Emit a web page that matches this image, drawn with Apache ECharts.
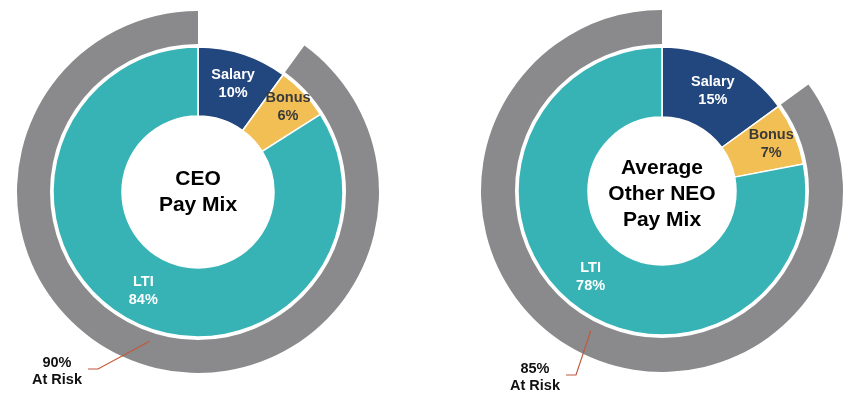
<!DOCTYPE html>
<html>
<head>
<meta charset="utf-8">
<title>Pay Mix</title>
<script src="https://cdn.jsdelivr.net/npm/echarts@6/dist/echarts.min.js"></script>
<style>
  html, body { margin: 0; padding: 0; background: #fff; }
  #chart { width: 862px; height: 398px; }
</style>
</head>
<body>
<div id="chart"></div>
<script>
// pay components, clockwise from 12 o'clock
const categories = ['Salary', 'Bonus', 'LTI'];
const ceoMix = [10, 6, 84];
const neoMix = [15, 7, 78];
// bonus + LTI
const atRisk = [90, 85];
const centerTitles = ['CEO\nPay Mix', 'Average\nOther NEO\nPay Mix'];

const FONT = '"Liberation Sans", Arial, Helvetica, sans-serif';
const sliceColors = ['#22467e', '#f2bf55', '#37b3b6'];
const ringColor = '#8a898b';

// geometry of the two charts
const charts = [
  { center: [198, 192], hole: 76, inner: 145, ringIn: 148, ringOut: 181, leader: 157, bonusPush: 10, riskLabel: [57, 371], titleY: 192 },
  { center: [662, 191], hole: 74, inner: 144, ringIn: 147, ringOut: 181, leader: 157, bonusPush: 7, riskLabel: [535, 377], titleY: 194 }
];

function buildSeries(mix, risk, g) {
  const mixPie = {
    type: 'pie',
    center: g.center,
    radius: [g.hole, g.inner],
    startAngle: 90,
    clockwise: true,
    silent: true,
    animation: false,
    itemStyle: { borderColor: '#fff', borderWidth: 1.5 },
    label: {
      show: true,
      position: 'inside',
      formatter: (p) => p.name + '\n' + p.value + '%',
      fontFamily: FONT,
      fontWeight: 'bold',
      fontSize: 14.5,
      lineHeight: 18,
      color: '#fff'
    },
    labelLine: { show: false },
    // the bonus label sits a little further out than the band middle
    labelLayout: (params) => {
      if (params.dataIndex !== 1) return {};
      const a = ((mix[0] + mix[1] / 2) / 100) * 2 * Math.PI;
      return { dx: g.bonusPush * Math.sin(a), dy: -g.bonusPush * Math.cos(a) };
    },
    data: categories.map((name, i) => ({
      name: name,
      value: mix[i],
      itemStyle: { color: sliceColors[i] },
      label: name === 'Bonus' ? { color: '#3a3a3a' } : undefined
    }))
  };

  const riskRing = {
    type: 'pie',
    center: g.center,
    radius: [g.ringIn, g.ringOut],
    startAngle: 90,
    clockwise: true,
    silent: true,
    animation: false,
    z: 2,
    label: { show: false },
    labelLine: { show: false },
    data: [
      { name: 'Fixed', value: mix[0], itemStyle: { color: 'transparent' } },
      { name: 'At Risk', value: risk, itemStyle: { color: ringColor } }
    ]
  };

  // invisible copy of the ring, only used to hang the "At Risk" callout on top
  const riskCallout = {
    type: 'pie',
    center: g.center,
    radius: [0, g.leader],
    startAngle: 90,
    clockwise: true,
    silent: true,
    animation: false,
    z: 4,
    itemStyle: { color: 'transparent' },
    label: {
      show: true,
      position: 'outside',
      formatter: (p) => p.value + '%\nAt Risk',
      fontFamily: FONT,
      fontWeight: 'bold',
      fontSize: 14.5,
      lineHeight: 17,
      color: '#111'
    },
    labelLine: {
      show: true,
      length: 10,
      length2: 10,
      lineStyle: { color: '#c0583a', width: 1.2 }
    },
    labelLayout: (params) => {
      if (params.dataIndex !== 1) return {};
      const [lx, ly] = g.riskLabel;
      let p0 = params.labelLinePoints && params.labelLinePoints[0];
      if (!p0) {
        const a = ((mix[0] + risk / 2) / 100) * 2 * Math.PI;
        p0 = [g.center[0] + g.leader * Math.sin(a), g.center[1] - g.leader * Math.cos(a)];
      }
      return {
        x: lx,
        y: ly,
        align: 'center',
        verticalAlign: 'middle',
        labelLinePoints: [p0, [lx + 41, ly - 2], [lx + 31, ly - 2]]
      };
    },
    data: [
      { name: 'Fixed', value: mix[0], label: { show: false }, labelLine: { show: false } },
      { name: 'At Risk', value: risk }
    ]
  };

  return [mixPie, riskRing, riskCallout];
}

const chart = echarts.init(document.getElementById('chart'), null, { renderer: 'canvas' });

chart.setOption({
  backgroundColor: '#fff',
  animation: false,
  graphic: charts.map((g, i) => ({
    type: 'text',
    x: g.center[0],
    y: g.titleY,
    z: 10,
    style: {
      text: centerTitles[i],
      fontFamily: FONT,
      fontWeight: 'bold',
      fontSize: 21,
      lineHeight: 26,
      fill: '#000',
      align: 'center',
      verticalAlign: 'middle'
    }
  })),
  series: [
    ...buildSeries(ceoMix, atRisk[0], charts[0]),
    ...buildSeries(neoMix, atRisk[1], charts[1])
  ]
});
</script>
</body>
</html>
